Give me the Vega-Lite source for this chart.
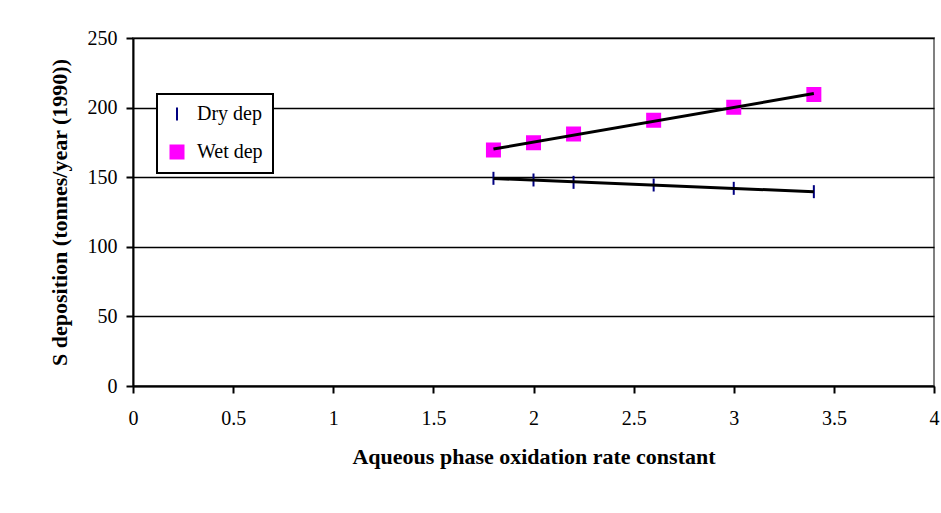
{
  "$schema": "https://vega.github.io/schema/vega-lite/v6.json",
  "width": 801,
  "height": 348,
  "autosize": "none",
  "padding": {"left": 133, "top": 38, "right": 7, "bottom": 127},
  "background": "white",
  "config": {
    "font": "Liberation Serif",
    "view": {"stroke": "#808080", "strokeWidth": 2},
    "legend": {
      "orient": "none",
      "legendX": 24,
      "legendY": 56,
      "title": null,
      "strokeColor": "black",
      "strokeWidth": 2,
      "fillColor": "white",
      "padding": 10,
      "labelFontSize": 20,
      "labelColor": "black",
      "labelFont": "Liberation Serif",
      "rowPadding": 16,
      "labelOffset": 10,
      "symbolSize": 169,
      "symbolStrokeWidth": 2,
      "symbolOpacity": 1
    }
  },
  "data": {
    "values": [
      {"x": 1.8, "y": 149.2, "series": "Dry dep"},
      {"x": 2.0, "y": 148.0, "series": "Dry dep"},
      {"x": 2.2, "y": 146.3, "series": "Dry dep"},
      {"x": 2.6, "y": 144.4, "series": "Dry dep"},
      {"x": 3.0, "y": 142.0, "series": "Dry dep"},
      {"x": 3.4, "y": 139.6, "series": "Dry dep"},
      {"x": 1.8, "y": 169.5, "series": "Wet dep"},
      {"x": 2.0, "y": 174.8, "series": "Wet dep"},
      {"x": 2.2, "y": 181.0, "series": "Wet dep"},
      {"x": 2.6, "y": 191.0, "series": "Wet dep"},
      {"x": 3.0, "y": 200.2, "series": "Wet dep"},
      {"x": 3.4, "y": 209.5, "series": "Wet dep"}
    ]
  },
  "encoding": {
    "x": {
      "field": "x",
      "type": "quantitative",
      "scale": {"domain": [0, 4], "nice": false},
      "axis": {
        "values": [0, 0.5, 1, 1.5, 2, 2.5, 3, 3.5, 4],
        "format": "~g",
        "grid": false,
        "domainColor": "black",
        "domainWidth": 2,
        "tickColor": "black",
        "tickWidth": 2,
        "tickSize": 7,
        "labelFontSize": 20,
        "labelColor": "black",
        "labelPadding": 15,
        "labelFlush": false,
        "title": "Aqueous phase oxidation rate constant",
        "titleFontSize": 22,
        "titleFontWeight": "bold",
        "titleColor": "black",
        "titlePadding": 18
      }
    },
    "y": {
      "field": "y",
      "type": "quantitative",
      "scale": {"domain": [0, 250], "nice": false},
      "axis": {
        "values": [0, 50, 100, 150, 200, 250],
        "grid": true,
        "gridColor": "black",
        "gridWidth": 1.5,
        "domainColor": "black",
        "domainWidth": 2,
        "tickColor": "black",
        "tickWidth": 2,
        "tickSize": 7,
        "labelFontSize": 20,
        "labelColor": "black",
        "labelPadding": 9,
        "title": "S deposition (tonnes/year (1990))",
        "titleFontSize": 22,
        "titleFontWeight": "bold",
        "titleColor": "black",
        "titlePadding": 16
      }
    }
  },
  "layer": [
    {
      "mark": {"type": "point", "filled": true, "opacity": 1, "strokeWidth": 2, "size": 169},
      "encoding": {
        "shape": {
          "field": "series",
          "type": "nominal",
          "scale": {"domain": ["Dry dep", "Wet dep"], "range": ["M0,-1L0,1", "square"]}
        },
        "fill": {
          "field": "series",
          "type": "nominal",
          "scale": {"domain": ["Dry dep", "Wet dep"], "range": ["#000080", "#FF00FF"]}
        },
        "stroke": {
          "field": "series",
          "type": "nominal",
          "scale": {"domain": ["Dry dep", "Wet dep"], "range": ["#000080", "#FF00FF"]}
        }
      }
    },
    {
      "transform": [
        {"regression": "y", "on": "x", "groupby": ["series"], "extent": [1.8, 3.4]}
      ],
      "mark": {"type": "line", "color": "black", "strokeWidth": 3},
      "encoding": {"detail": {"field": "series"}}
    }
  ]
}
